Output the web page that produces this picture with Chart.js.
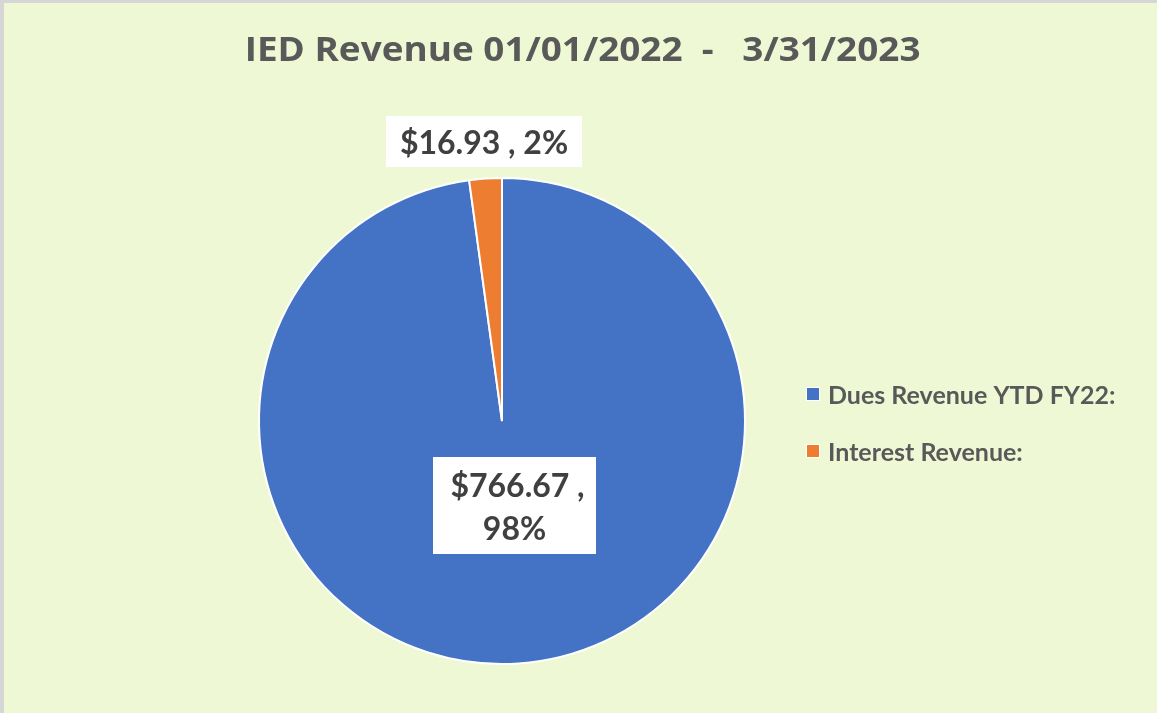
<!DOCTYPE html>
<html><head><meta charset="utf-8">
<script src="https://cdn.jsdelivr.net/npm/chart.js@4"></script>
<style>html,body{margin:0;padding:0;background:#EFF8D5;}#wrap{width:1157px;height:713px;}</style>
</head><body><div id="wrap"><canvas id="c" width="1157" height="713"></canvas></div>
<script>
const categories = ["Dues Revenue YTD FY22:", "Interest Revenue:"];
const values = [766.67, 16.93];
const percentLabels = ["98%", "2%"];
const titleText = "IED Revenue 01/01/2022  -   3/31/2023";
const colors = ["#4472C4", "#ED7D31"];
const FONT = "Lato, 'Open Sans', sans-serif";
const TFONT = "'Open Sans', Lato, sans-serif";

const decor = {
  id: 'decor',
  beforeDraw(chart) {
    const ctx = chart.ctx;
    ctx.save();
    ctx.fillStyle = '#EFF8D5';
    ctx.fillRect(0, 0, chart.width, chart.height);
    ctx.fillStyle = '#D6D6D6';
    ctx.fillRect(0, 0, 4, chart.height);
    ctx.fillRect(0, 0, chart.width, 3);
    // title, stretched to the reference extent
    ctx.font = "bold 34px " + TFONT;
    ctx.textBaseline = 'alphabetic';
    ctx.textAlign = 'left';
    const m = ctx.measureText(titleText);
    const w = m.actualBoundingBoxRight + m.actualBoundingBoxLeft;
    const left = 248, right = 920;
    const sx = (right - left) / w;
    ctx.translate(left, 61);
    ctx.scale(sx, 1);
    ctx.fillStyle = '#595959';
    ctx.fillText(titleText, m.actualBoundingBoxLeft, 0);
    ctx.restore();
  },
  afterDraw(chart) {
    const ctx = chart.ctx;
    const meta = chart.getDatasetMeta(0);
    ctx.save();
    ctx.font = "bold 32px " + FONT;
    ctx.textAlign = 'center';
    ctx.textBaseline = 'middle';
    const p = meta.data[0].getProps(['x','y','outerRadius']);
    // small slice label (outside, above)
    {
      const txt = "$" + values[1].toFixed(2) + " , " + percentLabels[1];
      const bx = p.x - 18, by = p.y - 280;
      ctx.fillStyle = '#FFFFFF';
      ctx.fillRect(bx - 98, by - 25, 196, 51);
      ctx.fillStyle = '#404040';
      ctx.fillText(txt, bx, by + 3);
    }
    // big slice label (inside)
    {
      const l1 = "$" + values[0].toFixed(2) + " ,";
      const l2 = percentLabels[0];
      const bx = p.x + 12.5, by = p.y + 84.5;
      ctx.fillStyle = '#FFFFFF';
      ctx.fillRect(bx - 81.5, by - 48.5, 163, 97);
      ctx.fillStyle = '#404040';
      ctx.fillText(l1, bx + 3, by - 19);
      ctx.fillText(l2, bx, by + 24);
    }
    // legend
    ctx.font = "bold 25px " + FONT;
    ctx.textAlign = 'left';
    const lx = 807, ly = [394, 451];
    categories.forEach((c, i) => {
      ctx.fillStyle = '#FFFFFF';
      ctx.fillRect(lx - 1, ly[i] - 7, 14, 14);
      ctx.fillStyle = colors[i];
      ctx.fillRect(lx, ly[i] - 6, 12, 12);
      ctx.fillStyle = '#595959';
      ctx.fillText(c, lx + 21, ly[i] + 2);
    });
    ctx.restore();
  }
};

new Chart(document.getElementById('c'), {
  type: 'pie',
  data: {
    labels: categories,
    datasets: [{
      data: values,
      backgroundColor: colors,
      borderColor: '#FFFFFF',
      borderWidth: 2
    }]
  },
  options: {
    responsive: false,
    animation: false,
    layout: { padding: { left: 258, right: 411, top: 177, bottom: 48 } },
    plugins: {
      legend: { display: false },
      tooltip: { enabled: false },
      title: { display: false }
    }
  },
  plugins: [decor]
});
</script>
</body></html>
